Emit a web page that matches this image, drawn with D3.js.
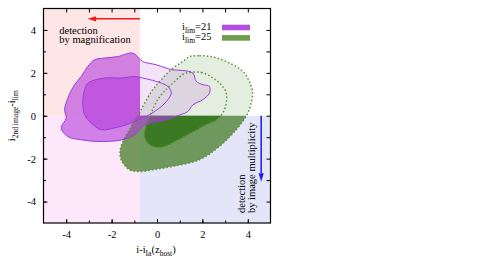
<!DOCTYPE html>
<html>
<head>
<meta charset="utf-8">
<script src="https://cdn.jsdelivr.net/npm/d3@7"></script>
<style>
body { margin: 0; background: #fff; }
svg text { font-family: "Liberation Serif", "DejaVu Serif", "Times New Roman", serif !important; }
</style>
</head>
<body>
<script>
// contours, in (i - iIa , i2nd - ilim) units
const purpleOuter = [
  [-1.07, 2.92], [-0.63, 2.53], [-0.04, 2.38], [0.41, 2.22], [0.70, 2.14],
  [1.14, 2.11], [1.58, 1.99], [1.73, 1.60], [2.02, 1.45], [2.31, 1.37],
  [2.31, 1.06], [2.02, 0.75], [1.58, 0.51], [1.36, 0.20], [0.90, 0.0],
  [0.41, -0.19], [-0.33, -0.34], [-0.63, -0.50], [-0.99, -0.89], [-1.58, -1.13],
  [-2.61, -1.20], [-3.34, -1.12], [-3.93, -0.97], [-4.22, -0.57], [-4.00, -0.11],
  [-4.07, 0.28], [-3.93, 0.82], [-3.63, 1.45], [-3.34, 1.83], [-3.05, 2.30],
  [-2.75, 2.61], [-2.31, 2.69], [-1.73, 2.76]
];
const purpleInner = [
  [-0.99, 1.83], [-0.63, 1.76], [-0.04, 1.60], [0.48, 1.37], [0.63, 1.06],
  [0.48, 0.75], [0.11, 0.36], [-0.33, 0.05], [-0.77, -0.16], [-1.29, -0.40],
  [-1.87, -0.57], [-2.46, -0.65], [-2.90, -0.34], [-3.19, 0.05], [-3.27, 0.67],
  [-3.19, 1.21], [-3.05, 1.52], [-2.31, 1.76], [-1.58, 1.76]
];
const greenOuter = [
  [1.43, 2.76], [1.87, 2.80], [2.46, 2.74], [3.19, 2.46], [3.78, 2.07],
  [4.07, 1.60], [4.21, 1.07], [4.12, 0.47], [3.94, 0.0], [3.49, -0.65],
  [2.75, -1.43], [1.87, -2.05], [0.70, -2.36], [-0.19, -2.52], [-0.77, -2.60],
  [-1.21, -2.52], [-1.58, -2.05], [-1.62, -1.59], [-1.43, -1.04], [-1.21, -0.65],
  [-0.99, -0.19], [-0.77, 0.13], [-0.63, 0.43], [-0.19, 1.21], [0.26, 1.76],
  [0.70, 2.22], [1.14, 2.53]
];
const greenInner = [
  [1.21, 1.96], [1.95, 2.02], [2.46, 1.76], [2.83, 1.45], [3.05, 1.06],
  [3.05, 0.59], [2.90, 0.13], [2.62, -0.19], [2.17, -0.42], [1.43, -0.84],
  [0.85, -1.17], [0.19, -1.47], [-0.33, -1.35], [-0.55, -0.97], [-0.48, -0.47],
  [-0.33, -0.05], [-0.19, 0.28], [-0.02, 0.67], [0.26, 1.06], [0.70, 1.52]
];

const xMajor = [-4, -2, 0, 2, 4];
const yMajor = [-4, -2, 0, 2, 4];
const minorTicks = [-4, -3, -2, -1, 0, 1, 2, 3, 4];
const legendLabels = ["21", "25"];

// detection limits
const xCut = -0.75;
const yCut = 0;
// arrows: [start, tip]
const magArrow = [[-0.75, 4.52], [-3.06, 4.52]];
const multArrow = [[4.59, 0], [4.59, -3.08]];

const serif = "'Liberation Serif', 'DejaVu Serif', 'Times New Roman', serif";

const svg = d3.select("body").append("svg")
    .attr("width", 479)
    .attr("height", 266)
    .style("font-family", serif);

const margin = {top: 8.5, right: 208.5, bottom: 43, left: 43.5};
const graphWidth = 479 - margin.left - margin.right;
const graphHeight = 266 - margin.top - margin.bottom;

const x = d3.scaleLinear().domain([-5, 5]).range([0, graphWidth]);
const y = d3.scaleLinear().domain([-5, 5]).range([graphHeight, 0]);

const g = svg.append("g")
    .attr("transform", `translate(${margin.left}, ${margin.top})`);

// clip areas: detectable (left of cut OR below 0) and the rest
const defs = svg.append("defs");
const det = defs.append("clipPath").attr("id", "detect");
det.append("rect")
    .attr("x", x(-5)).attr("y", y(5))
    .attr("width", x(xCut) - x(-5)).attr("height", graphHeight);
det.append("rect")
    .attr("x", x(-5)).attr("y", y(yCut))
    .attr("width", graphWidth).attr("height", y(-5) - y(yCut));
defs.append("clipPath").attr("id", "quiet")
    .append("rect")
    .attr("x", x(xCut)).attr("y", y(5))
    .attr("width", x(5) - x(xCut)).attr("height", y(yCut) - y(5));

// background shading
g.append("rect")
    .attr("x", x(-5)).attr("y", y(5))
    .attr("width", x(xCut) - x(-5)).attr("height", y(yCut) - y(5))
    .attr("fill", "#fde6e5");
g.append("rect")
    .attr("x", x(-5)).attr("y", y(yCut))
    .attr("width", x(xCut) - x(-5)).attr("height", y(-5) - y(yCut))
    .attr("fill", "#fde7fb");
g.append("rect")
    .attr("x", x(xCut)).attr("y", y(yCut))
    .attr("width", x(5) - x(xCut)).attr("height", y(-5) - y(yCut))
    .attr("fill", "#e5e5fa");

const contour = d3.line()
    .x(d => x(d[0]))
    .y(d => y(d[1]))
    .curve(d3.curveCatmullRomClosed.alpha(0.5));

// fills - strong inside detectable area, pale elsewhere
const fills = [
  [greenOuter, "rgba(70,125,40,0.75)", "detect"],
  [greenInner, "rgba(50,115,25,0.85)", "detect"],
  [greenOuter, "rgba(90,150,60,0.16)", "quiet"],
  [purpleOuter, "rgba(180,60,220,0.6)", "detect"],
  [purpleInner, "rgba(180,60,220,0.6)", "detect"],
  [purpleOuter, "rgba(180,80,220,0.16)", "quiet"]
];
fills.forEach(f => {
  g.append("path")
      .attr("d", contour(f[0]))
      .attr("fill", f[1])
      .attr("clip-path", `url(#${f[2]})`);
});

// outlines
[greenOuter, greenInner].forEach(c => {
  g.append("path")
      .attr("d", contour(c))
      .attr("fill", "none")
      .attr("stroke", "#5a9434")
      .attr("stroke-width", 1.5)
      .attr("stroke-dasharray", "1.5,2.2");
});
[purpleOuter, purpleInner].forEach(c => {
  g.append("path")
      .attr("d", contour(c))
      .attr("fill", "none")
      .attr("stroke", "#9b3ddc")
      .attr("stroke-width", 1);
});

// axes, ticks point inwards on all four sides
function styleAxis(sel) {
  sel.attr("font-family", serif);
  sel.select(".domain").remove();
  sel.selectAll("line").attr("stroke", "#000");
  sel.selectAll("text")
      .attr("font-size", 10.5)
      .attr("fill", "#000");
}
const fmt = d => String(d);

g.append("g")
    .attr("transform", `translate(0, ${graphHeight})`)
    .call(d3.axisBottom(x).tickValues(xMajor).tickFormat(fmt).tickSizeInner(-4).tickPadding(7.5))
    .call(styleAxis);
g.append("g")
    .call(d3.axisLeft(y).tickValues(yMajor).tickFormat(fmt).tickSizeInner(-4).tickPadding(7.5))
    .call(styleAxis);
g.append("g")
    .attr("transform", `translate(0, ${graphHeight})`)
    .call(d3.axisBottom(x).tickValues(minorTicks).tickFormat("").tickSizeInner(-2.5))
    .call(styleAxis);
g.append("g")
    .call(d3.axisLeft(y).tickValues(minorTicks).tickFormat("").tickSizeInner(-2.5))
    .call(styleAxis);
g.append("g")
    .call(d3.axisTop(x).tickValues(minorTicks).tickFormat("").tickSizeInner(-4))
    .call(styleAxis);
g.append("g")
    .attr("transform", `translate(${graphWidth}, 0)`)
    .call(d3.axisRight(y).tickValues(minorTicks).tickFormat("").tickSizeInner(-4))
    .call(styleAxis);

g.append("rect")
    .attr("width", graphWidth)
    .attr("height", graphHeight)
    .attr("fill", "none")
    .attr("stroke", "#000")
    .attr("stroke-width", 1.2);

// text with subscripts, parts = [[string, isSub], ...]
function richText(t, parts, size) {
  let down = false;
  parts.forEach(p => {
    const ts = t.append("tspan").text(p[0]);
    if (p[1]) {
      ts.attr("font-size", size * 0.72);
      if (!down) { ts.attr("dy", 3); down = true; }
    } else {
      ts.attr("font-size", size);
      if (down) { ts.attr("dy", -3); down = false; }
    }
  });
  return t;
}

// axis titles
richText(svg.append("text")
    .attr("x", margin.left + x(0) - 1)
    .attr("y", 252.5)
    .attr("text-anchor", "middle"),
  [["i-i", false], ["Ia", true], ["(z", false], ["host", true], [")", false]], 10.5);

richText(svg.append("text")
    .attr("transform", `translate(14.5, ${margin.top + y(0)}) rotate(-90)`)
    .attr("text-anchor", "middle"),
  [["i", false], ["2nd image", true], ["-i", false], ["lim", true]], 10.5);

// legend
const legendColors = ["#b24fe0", "#6e9f4f"];
legendLabels.forEach((lab, i) => {
  const yy = 30 + i * 10.4;
  richText(svg.append("text")
      .attr("x", 211.5)
      .attr("y", yy)
      .attr("text-anchor", "end"),
    [["i", false], ["lim", true], ["=" + lab, false]], 10.5);
  svg.append("rect")
      .attr("x", 222)
      .attr("y", yy - 5.3)
      .attr("width", 28)
      .attr("height", 5.6)
      .attr("fill", legendColors[i]);
});

// arrows
function arrow(pts, color) {
  const p0 = [x(pts[0][0]), y(pts[0][1])];
  const p1 = [x(pts[1][0]), y(pts[1][1])];
  const ang = Math.atan2(p1[1] - p0[1], p1[0] - p0[0]);
  const len = 8.5, hw = 2.6;
  const bx = p1[0] - len * Math.cos(ang), by = p1[1] - len * Math.sin(ang);
  g.append("line")
      .attr("x1", p0[0]).attr("y1", p0[1])
      .attr("x2", bx).attr("y2", by)
      .attr("stroke", color)
      .attr("stroke-width", 1.5);
  g.append("path")
      .attr("d", d3.line()([
        p1,
        [bx - hw * Math.sin(ang), by + hw * Math.cos(ang)],
        [bx + hw * Math.sin(ang), by - hw * Math.cos(ang)]
      ]) + "Z")
      .attr("fill", color);
}
arrow(magArrow, "#ec1c1c");
arrow(multArrow, "#1c1cec");

// annotation text
const magText = svg.append("text")
    .attr("x", 59.3)
    .attr("y", 33.5)
    .attr("font-size", 10.5);
magText.append("tspan").attr("x", 59.3).text("detection");
magText.append("tspan").attr("x", 59.3).attr("dy", 9.6).text("by magnification");

const multText = svg.append("text")
    .attr("transform", "translate(245, 213) rotate(-90)")
    .attr("font-size", 10.5);
multText.append("tspan").attr("x", 0).text("detection");
multText.append("tspan").attr("x", 0).attr("dy", 9.6).text("by image multiplicity");
</script>
</body>
</html>
